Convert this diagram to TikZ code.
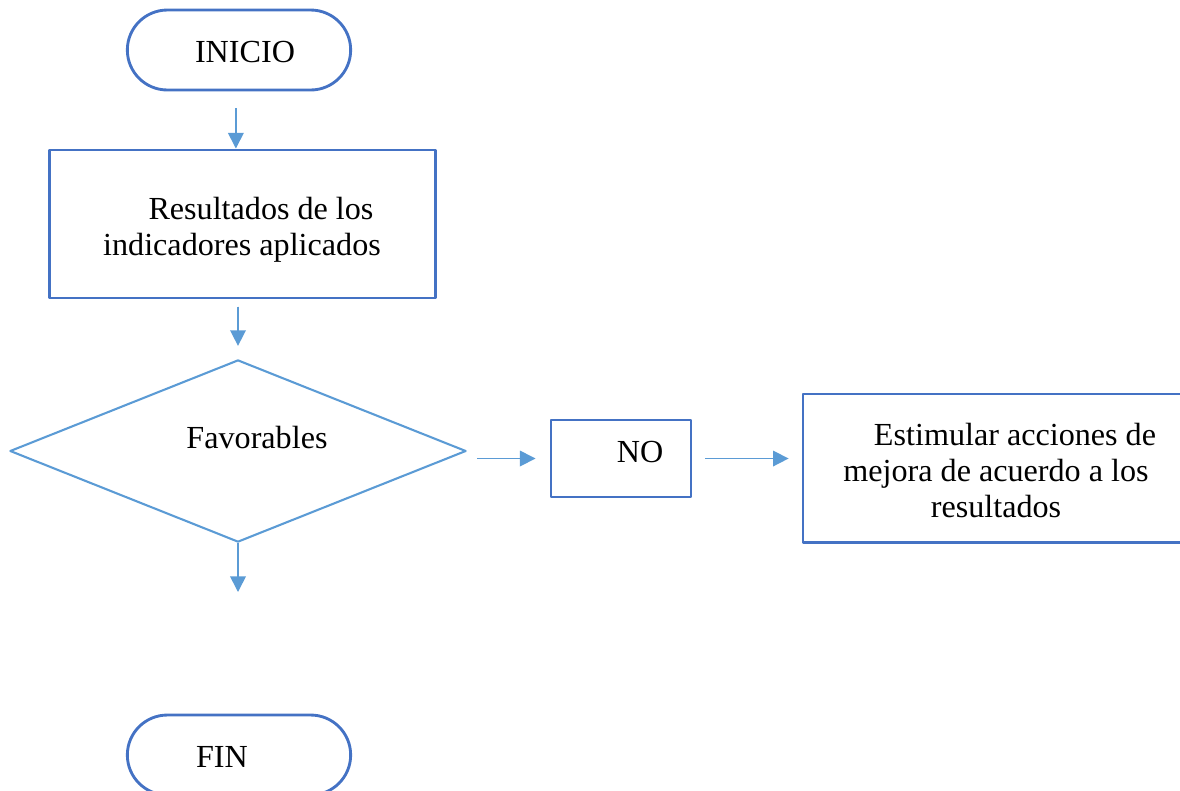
\documentclass[tikz,border=0pt]{standalone}
\usepackage{fontspec}
\setmainfont{Liberation Serif}
\usetikzlibrary{positioning}
\usetikzlibrary{shapes.misc}
\usetikzlibrary{shapes.geometric}
\usetikzlibrary{arrows.meta}
\definecolor{azul}{RGB}{68,114,196}
\definecolor{celeste}{RGB}{91,155,213}

\begin{document}
\begin{tikzpicture}[line join=round,x=0.0135cm,y=-0.0135cm,
	terminal/.style={rounded rectangle,draw=azul,line width=1.1pt,minimum width=3.25cm,minimum height=1.08cm},
	caja/.style={rectangle,draw=azul,line width=1.1pt},
	decision/.style={diamond,draw=celeste,line width=0.8pt,inner sep=0pt,minimum width=6.16cm,minimum height=2.46cm},
	texto/.style={font=\fontsize{12.35}{13.8}\selectfont,align=center,inner sep=0pt},
	flecha/.style={-{Triangle[length=6pt,width=6pt]},draw=celeste,fill=celeste,line width=0.6pt}]
	\clip (0,0) rectangle (1180,790);
	\node[terminal] (inicio) at (239,50) {};
	\node[caja,minimum width=5.22cm,minimum height=2.0cm] (resultados) at (242.5,224) {};
	\node[decision] (favorables) at (238,451) {};
	\node[caja,minimum width=1.89cm,minimum height=1.04cm] (no) at (621,458.5) {};
	\node[caja,minimum width=5.4cm,minimum height=2.0cm] (estimular) at (1003,468) {};
	\node[terminal] (fin) at (239,755) {};
	\coordinate (salida) at (238,592);
	\node[texto] (tinicio) at (245,52) {INICIO};
	\node[texto] (tresultados) at (242,230) {\hspace*{14.6pt}Resultados de los\\indicadores aplicados};
	\node[texto] (tfavorables) at (257,437) {Favorables};
	\node[texto] (tno) at (640,452) {NO};
	\node[texto] (testimular) at (996,470.5) {\hspace*{14.6pt}Estimular acciones de\\mejora de acuerdo a los\\resultados};
	\node[texto] (tfin) at (222,757) {FIN};
	\draw[flecha,shorten <=6.5pt] ([xshift=-2\pgflinewidth]inicio.south) -- ([xshift=-2\pgflinewidth]inicio.south |- resultados.north);
	\draw[flecha,shorten <=2.7pt,shorten >=5pt] (favorables.north |- resultados.south) -- (favorables.north);
	\draw[flecha] (favorables.south) -- (salida);
	\draw[flecha,shorten <=3.8pt,shorten >=5.4pt] (favorables.east |- no.west) -- (no.west);
	\draw[flecha,shorten <=5pt,shorten >=5pt] (no.east) -- (no.east -| estimular.west);
\end{tikzpicture}
\end{document}
